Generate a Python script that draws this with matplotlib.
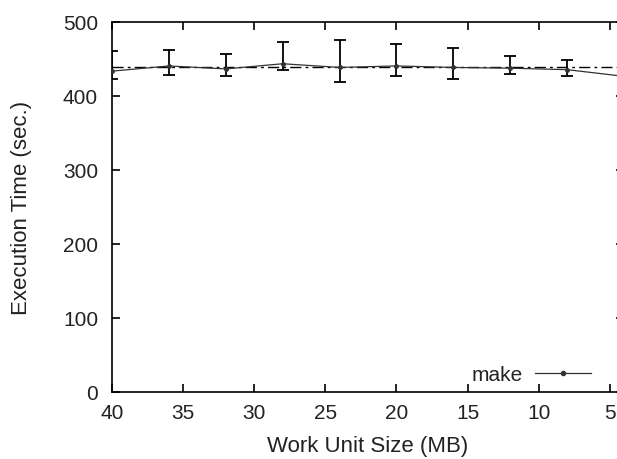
import numpy as np
import matplotlib.pyplot as plt
from matplotlib.lines import Line2D

plt.rcParams['font.family'] = ['Liberation Sans', 'DejaVu Sans']

# work unit size (MB) and execution time (sec.)
unit_size = [40, 36, 32, 28, 24, 20, 16, 12, 8, 4]
exec_time = [433, 440, 436, 443, 438, 440, 438, 437, 435, 426]
err_low = [422, 428, 426, 434, 419, 426, 423, 429, 427, 416]
err_high = [460, 461, 456, 473, 475, 470, 464, 453, 448, 436]
mean_time = 438

t = np.array(exec_time)
yerr = [t - np.array(err_low), np.array(err_high) - t]

fig = plt.figure(figsize=(6.17, 4.6), dpi=100)
# right side of the plot box runs past the picture edge, as in the original
ax = fig.add_axes([112/617, 67/460, 512/617, 370.5/460])

ax.axhline(mean_time, color='black', lw=1.0, ls=(0, (8, 3, 2, 3)), zorder=2)
ax.errorbar(unit_size, exec_time, yerr=yerr, color='#333333', ecolor='black',
            lw=0.9, elinewidth=1.3, capsize=4, capthick=1.3, marker='o', ms=2.5,
            zorder=3)

ax.set_xlim(40, 4)
ax.set_ylim(0, 500)
ax.set_xticks([40, 35, 30, 25, 20, 15, 10, 5])
ax.set_yticks([0, 100, 200, 300, 400, 500])
ax.tick_params(direction='in', length=6, width=1.2, top=True, right=True,
               labelsize=15, labelcolor='#222222', pad=8)
ax.tick_params(axis='y', pad=10)
for s in ax.spines.values():
    s.set_linewidth(1.2)

ax.set_xlabel('Work Unit Size (MB)', fontsize=16, color='#222222', labelpad=9)
ax.set_ylabel('Execution Time (sec.)', fontsize=16, color='#222222', labelpad=22)

handle = Line2D([], [], color='#333333', lw=0.9, marker='o', ms=3)
ax.legend([handle], ['make'], loc='center right', bbox_to_anchor=(0.951, 0.046),
          frameon=False, markerfirst=False, fontsize=15, handlelength=2.65,
          handletextpad=0.6, borderaxespad=0, labelcolor='#222222')

fig.savefig('out.png', dpi=100)
